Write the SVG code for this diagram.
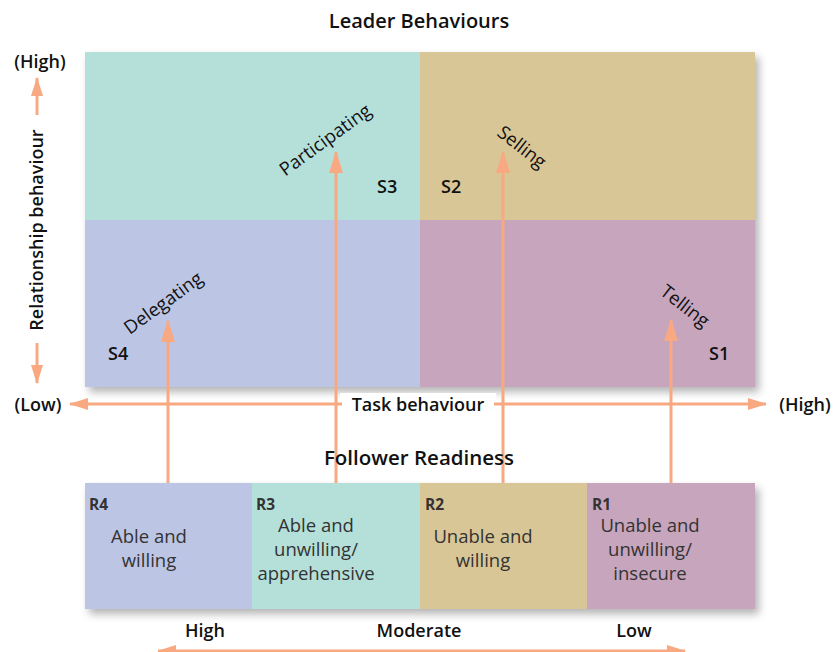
<svg xmlns="http://www.w3.org/2000/svg" width="835" height="652" viewBox="0 0 835 652">
<defs>
<filter id="sh" x="-5%" y="-5%" width="115%" height="120%">
<feGaussianBlur in="SourceAlpha" stdDeviation="4"/>
<feOffset dx="4" dy="5" result="b"/>
<feComponentTransfer><feFuncA type="linear" slope="0.3"/></feComponentTransfer>
<feMerge><feMergeNode/><feMergeNode in="SourceGraphic"/></feMerge>
</filter>
<marker id="ah" viewBox="0 0 16 10" refX="15" refY="5" markerWidth="7.5" markerHeight="4.7" orient="auto-start-reverse" markerUnits="strokeWidth">
<path d="M0,0 L16,5 L0,10 z" fill="#f8a982"/>
</marker>
<marker id="ah2" viewBox="0 0 16 10" refX="15" refY="5" markerWidth="6.5" markerHeight="4" orient="auto-start-reverse" markerUnits="strokeWidth">
<path d="M0,0 L16,5 L0,10 z" fill="#f8a982"/>
</marker>
</defs>
<style>
text{font-family:"Open Sans","Liberation Sans",Arial,sans-serif;fill:#111}
.t{font-size:20px;font-weight:600;text-anchor:middle}
.ax{font-size:18px;font-weight:600}
.st{font-size:18.5px;font-weight:500;text-anchor:middle}
.s{font-size:18px;font-weight:600}
.r{font-size:15.5px;font-weight:bold;fill:#333}
.b{font-size:18.5px;fill:#333;text-anchor:middle;font-weight:500}
.ln{stroke:#f8a982;stroke-width:3;fill:none}
</style>
<rect width="835" height="652" fill="#fff"/>
<text class="t" x="419" y="28">Leader Behaviours</text>
<g id="grid" filter="url(#sh)">
<g id="q-s3"><rect x="85" y="52" width="335" height="168" fill="#b5e0da"/></g>
<g id="q-s2"><rect x="420" y="52" width="335" height="168" fill="#d8c697"/></g>
<g id="q-s4"><rect x="85" y="220" width="335" height="167" fill="#bcc5e4"/></g>
<g id="q-s1"><rect x="420" y="220" width="335" height="167" fill="#c6a5bd"/></g>
</g>
<g id="readiness" filter="url(#sh)">
<g id="r4"><rect x="85" y="483" width="167" height="126" fill="#bcc5e4"/></g>
<g id="r3"><rect x="252" y="483" width="168" height="126" fill="#b5e0da"/></g>
<g id="r2"><rect x="420" y="483" width="167" height="126" fill="#d8c697"/></g>
<g id="r1"><rect x="587" y="483" width="168" height="126" fill="#c6a5bd"/></g>
</g>
<g id="connectors">
<line class="ln" x1="168" y1="483" x2="168" y2="321" marker-end="url(#ah)"/>
<line class="ln" x1="336" y1="483" x2="336" y2="152" marker-end="url(#ah)"/>
<line class="ln" x1="503" y1="483" x2="503" y2="152" marker-end="url(#ah)"/>
<line class="ln" x1="671" y1="483" x2="671" y2="320" marker-end="url(#ah)"/>
<rect x="340" y="393" width="156" height="22" fill="#fff"/>
<line class="ln" x1="342" y1="404" x2="70" y2="404" stroke-width="4" marker-end="url(#ah2)"/>
<line class="ln" x1="494" y1="404" x2="766" y2="404" stroke-width="4" marker-end="url(#ah2)"/>
<line class="ln" x1="37" y1="115" x2="37" y2="78" stroke-width="4" marker-end="url(#ah2)"/>
<line class="ln" x1="37" y1="343" x2="37" y2="383" stroke-width="4" marker-end="url(#ah2)"/>
<line class="ln" x1="185" y1="651" x2="158" y2="651" stroke-width="5" marker-end="url(#ah2)"/>
<line class="ln" x1="185" y1="651" x2="659" y2="651" stroke-width="5"/>
<line class="ln" x1="659" y1="651" x2="685" y2="651" stroke-width="5" marker-end="url(#ah2)"/>
</g>
<text class="ax" x="40" y="68" text-anchor="middle">(High)</text>
<text class="ax" transform="translate(43,230) rotate(-90)" text-anchor="middle">Relationship behaviour</text>
<text class="ax" x="38" y="411" text-anchor="middle">(Low)</text>
<text class="ax" x="418" y="411" text-anchor="middle">Task behaviour</text>
<text class="ax" x="805" y="411" text-anchor="middle">(High)</text>
<text class="st" transform="translate(329,145) rotate(-36)">Participating</text>
<text class="st" transform="translate(518,152) rotate(38)">Selling</text>
<text class="st" transform="translate(167,308) rotate(-36)">Delegating</text>
<text class="st" transform="translate(681,311) rotate(38)">Telling</text>
<text class="s" x="377" y="193">S3</text>
<text class="s" x="441" y="193">S2</text>
<text class="s" x="108" y="360">S4</text>
<text class="s" x="709" y="360">S1</text>
<text class="t" x="419" y="465" style="font-size:20.5px">Follower Readiness</text>
<text class="r" x="89" y="510">R4</text>
<text class="r" x="256" y="510">R3</text>
<text class="r" x="425" y="510">R2</text>
<text class="r" x="592" y="510">R1</text>
<text class="b" x="149" y="543">Able and</text>
<text class="b" x="149" y="567">willing</text>
<text class="b" x="316" y="532">Able and</text>
<text class="b" x="316" y="556">unwilling/</text>
<text class="b" x="316" y="580">apprehensive</text>
<text class="b" x="483" y="543">Unable and</text>
<text class="b" x="483" y="567">willing</text>
<text class="b" x="650" y="532">Unable and</text>
<text class="b" x="650" y="556">unwilling/</text>
<text class="b" x="650" y="580">insecure</text>
<text class="ax" x="205" y="637" text-anchor="middle">High</text>
<text class="ax" x="419" y="637" text-anchor="middle">Moderate</text>
<text class="ax" x="634" y="637" text-anchor="middle">Low</text>
</svg>
